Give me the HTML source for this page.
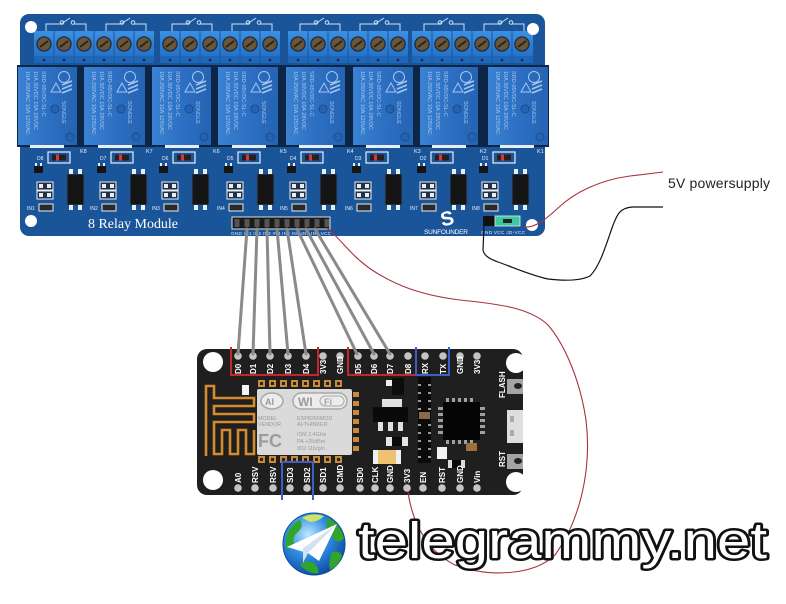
<!DOCTYPE html>
<html><head><meta charset="utf-8">
<style>
html,body{margin:0;padding:0;background:#fff;}
svg{display:block;}
</style></head><body>
<svg width="786" height="604" viewBox="0 0 786 604" xmlns="http://www.w3.org/2000/svg" font-family="Liberation Sans, sans-serif">
<defs>
 <linearGradient id="relayG" x1="0" y1="0" x2="1" y2="0">
  <stop offset="0" stop-color="#3b82d2"/><stop offset="0.5" stop-color="#2d70c3"/><stop offset="1" stop-color="#2563b3"/>
 </linearGradient>
 <linearGradient id="termG" x1="0" y1="0" x2="0" y2="1">
  <stop offset="0" stop-color="#3c90e2"/><stop offset="1" stop-color="#2672c6"/>
 </linearGradient>
 <radialGradient id="globe" cx="0.4" cy="0.35" r="0.75">
  <stop offset="0" stop-color="#bfe8ff"/><stop offset="0.45" stop-color="#2f8ee0"/><stop offset="1" stop-color="#0a3c9a"/>
 </radialGradient>
</defs>

<!-- ============ RELAY BOARD ============ -->
<rect x="20" y="14" width="525" height="222" rx="9" fill="#1b5599"/>

<!-- schematic symbols -->
<g stroke="#cfe0f2" fill="none" stroke-width="1">
<path d="M46 31V24H61M61 24L70 18M74 24H86V31"/><circle cx="62" cy="22.5" r="1.8"/><circle cx="73" cy="22.5" r="1.8"/>
<path d="M106 31V24H121M121 24L130 18M134 24H146V31"/><circle cx="122" cy="22.5" r="1.8"/><circle cx="133" cy="22.5" r="1.8"/>
<path d="M172 31V24H187M187 24L196 18M200 24H212V31"/><circle cx="188" cy="22.5" r="1.8"/><circle cx="199" cy="22.5" r="1.8"/>
<path d="M232 31V24H247M247 24L256 18M260 24H272V31"/><circle cx="248" cy="22.5" r="1.8"/><circle cx="259" cy="22.5" r="1.8"/>
<path d="M300 31V24H315M315 24L324 18M328 24H340V31"/><circle cx="316" cy="22.5" r="1.8"/><circle cx="327" cy="22.5" r="1.8"/>
<path d="M360 31V24H375M375 24L384 18M388 24H400V31"/><circle cx="376" cy="22.5" r="1.8"/><circle cx="387" cy="22.5" r="1.8"/>
<path d="M424 31V24H439M439 24L448 18M452 24H464V31"/><circle cx="440" cy="22.5" r="1.8"/><circle cx="451" cy="22.5" r="1.8"/>
<path d="M484 31V24H499M499 24L508 18M512 24H524V31"/><circle cx="500" cy="22.5" r="1.8"/><circle cx="511" cy="22.5" r="1.8"/>
</g>

<!-- terminal blocks -->
<g transform="translate(34,31)">
 <rect width="120" height="32" fill="#1f66b8"/><rect width="120" height="25" fill="url(#termG)"/>
 <path d="M20 0V32M40 0V32M60 0V32M80 0V32M100 0V32" stroke="#1a58a0"/>
 <g fill="#6a5638" stroke="#24344a" stroke-width="1.6">
  <circle cx="10" cy="13" r="7"/><circle cx="30" cy="13" r="7"/><circle cx="50" cy="13" r="7"/><circle cx="70" cy="13" r="7"/><circle cx="90" cy="13" r="7"/><circle cx="110" cy="13" r="7"/>
 </g>
 <path d="M6 16L14 10M26 16L34 10M46 16L54 10M66 16L74 10M86 16L94 10M106 16L114 10" stroke="#2a2418" stroke-width="1.8"/>
 <g fill="#0d2a4f"><circle cx="10" cy="29" r="1.3"/><circle cx="30" cy="29" r="1.3"/><circle cx="50" cy="29" r="1.3"/><circle cx="70" cy="29" r="1.3"/><circle cx="90" cy="29" r="1.3"/><circle cx="110" cy="29" r="1.3"/></g>
</g>
<g transform="translate(160,31)">
 <rect width="120" height="32" fill="#1f66b8"/><rect width="120" height="25" fill="url(#termG)"/>
 <path d="M20 0V32M40 0V32M60 0V32M80 0V32M100 0V32" stroke="#1a58a0"/>
 <g fill="#6a5638" stroke="#24344a" stroke-width="1.6">
  <circle cx="10" cy="13" r="7"/><circle cx="30" cy="13" r="7"/><circle cx="50" cy="13" r="7"/><circle cx="70" cy="13" r="7"/><circle cx="90" cy="13" r="7"/><circle cx="110" cy="13" r="7"/>
 </g>
 <path d="M6 16L14 10M26 16L34 10M46 16L54 10M66 16L74 10M86 16L94 10M106 16L114 10" stroke="#2a2418" stroke-width="1.8"/>
 <g fill="#0d2a4f"><circle cx="10" cy="29" r="1.3"/><circle cx="30" cy="29" r="1.3"/><circle cx="50" cy="29" r="1.3"/><circle cx="70" cy="29" r="1.3"/><circle cx="90" cy="29" r="1.3"/><circle cx="110" cy="29" r="1.3"/></g>
</g>
<g transform="translate(288,31)">
 <rect width="120" height="32" fill="#1f66b8"/><rect width="120" height="25" fill="url(#termG)"/>
 <path d="M20 0V32M40 0V32M60 0V32M80 0V32M100 0V32" stroke="#1a58a0"/>
 <g fill="#6a5638" stroke="#24344a" stroke-width="1.6">
  <circle cx="10" cy="13" r="7"/><circle cx="30" cy="13" r="7"/><circle cx="50" cy="13" r="7"/><circle cx="70" cy="13" r="7"/><circle cx="90" cy="13" r="7"/><circle cx="110" cy="13" r="7"/>
 </g>
 <path d="M6 16L14 10M26 16L34 10M46 16L54 10M66 16L74 10M86 16L94 10M106 16L114 10" stroke="#2a2418" stroke-width="1.8"/>
 <g fill="#0d2a4f"><circle cx="10" cy="29" r="1.3"/><circle cx="30" cy="29" r="1.3"/><circle cx="50" cy="29" r="1.3"/><circle cx="70" cy="29" r="1.3"/><circle cx="90" cy="29" r="1.3"/><circle cx="110" cy="29" r="1.3"/></g>
</g>
<g transform="translate(412,31)">
 <rect width="121" height="32" fill="#1f66b8"/><rect width="121" height="25" fill="url(#termG)"/>
 <path d="M20 0V32M40 0V32M60 0V32M80 0V32M100 0V32" stroke="#1a58a0"/>
 <g fill="#6a5638" stroke="#24344a" stroke-width="1.6">
  <circle cx="10" cy="13" r="7"/><circle cx="30" cy="13" r="7"/><circle cx="50" cy="13" r="7"/><circle cx="70" cy="13" r="7"/><circle cx="90" cy="13" r="7"/><circle cx="110" cy="13" r="7"/>
 </g>
 <path d="M6 16L14 10M26 16L34 10M46 16L54 10M66 16L74 10M86 16L94 10M106 16L114 10" stroke="#2a2418" stroke-width="1.8"/>
 <g fill="#0d2a4f"><circle cx="10" cy="29" r="1.3"/><circle cx="30" cy="29" r="1.3"/><circle cx="50" cy="29" r="1.3"/><circle cx="70" cy="29" r="1.3"/><circle cx="90" cy="29" r="1.3"/><circle cx="110" cy="29" r="1.3"/></g>
</g>

<!-- relays -->
<rect x="17" y="65" width="532" height="82" fill="#0d2646"/>
<g font-size="5.5" fill="#a6c6ee">
<g transform="translate(18,67)">
 <rect width="59" height="78" fill="url(#relayG)"/>
 <text transform="translate(8,4) rotate(90)">10A 250VAC 10A 125VAC</text>
 <text transform="translate(16,4) rotate(90)">10A 30VDC 10A 28VDC</text>
 <text transform="translate(24,4) rotate(90)">SRD-05VDC-SL-C</text>
 <circle cx="46" cy="10" r="5.5" fill="none" stroke="#a6c6ee"/>
 <path d="M33 25l5-9 5 9z" fill="none" stroke="#a6c6ee"/>
 <path d="M44 18l10-4M44 22l10-4M44 26l10-4" stroke="#a6c6ee" stroke-width="1.5"/>
 <circle cx="37" cy="42" r="4" fill="#2563b0" stroke="#1a4d8c"/>
 <text transform="translate(44,34) rotate(90)">SONGLE</text>
 <circle cx="52" cy="70" r="4" fill="#2563b0" stroke="#1a4d8c"/>
</g>
<g transform="translate(84,67)">
 <rect width="61" height="78" fill="url(#relayG)"/>
 <text transform="translate(8,4) rotate(90)">10A 250VAC 10A 125VAC</text>
 <text transform="translate(16,4) rotate(90)">10A 30VDC 10A 28VDC</text>
 <text transform="translate(24,4) rotate(90)">SRD-05VDC-SL-C</text>
 <circle cx="46" cy="10" r="5.5" fill="none" stroke="#a6c6ee"/>
 <path d="M33 25l5-9 5 9z" fill="none" stroke="#a6c6ee"/>
 <path d="M44 18l10-4M44 22l10-4M44 26l10-4" stroke="#a6c6ee" stroke-width="1.5"/>
 <circle cx="37" cy="42" r="4" fill="#2563b0" stroke="#1a4d8c"/>
 <text transform="translate(44,34) rotate(90)">SONGLE</text>
 <circle cx="52" cy="70" r="4" fill="#2563b0" stroke="#1a4d8c"/>
</g>
<g transform="translate(152,67)">
 <rect width="59" height="78" fill="url(#relayG)"/>
 <text transform="translate(8,4) rotate(90)">10A 250VAC 10A 125VAC</text>
 <text transform="translate(16,4) rotate(90)">10A 30VDC 10A 28VDC</text>
 <text transform="translate(24,4) rotate(90)">SRD-05VDC-SL-C</text>
 <circle cx="46" cy="10" r="5.5" fill="none" stroke="#a6c6ee"/>
 <path d="M33 25l5-9 5 9z" fill="none" stroke="#a6c6ee"/>
 <path d="M44 18l10-4M44 22l10-4M44 26l10-4" stroke="#a6c6ee" stroke-width="1.5"/>
 <circle cx="37" cy="42" r="4" fill="#2563b0" stroke="#1a4d8c"/>
 <text transform="translate(44,34) rotate(90)">SONGLE</text>
 <circle cx="52" cy="70" r="4" fill="#2563b0" stroke="#1a4d8c"/>
</g>
<g transform="translate(218,67)">
 <rect width="60" height="78" fill="url(#relayG)"/>
 <text transform="translate(8,4) rotate(90)">10A 250VAC 10A 125VAC</text>
 <text transform="translate(16,4) rotate(90)">10A 30VDC 10A 28VDC</text>
 <text transform="translate(24,4) rotate(90)">SRD-05VDC-SL-C</text>
 <circle cx="46" cy="10" r="5.5" fill="none" stroke="#a6c6ee"/>
 <path d="M33 25l5-9 5 9z" fill="none" stroke="#a6c6ee"/>
 <path d="M44 18l10-4M44 22l10-4M44 26l10-4" stroke="#a6c6ee" stroke-width="1.5"/>
 <circle cx="37" cy="42" r="4" fill="#2563b0" stroke="#1a4d8c"/>
 <text transform="translate(44,34) rotate(90)">SONGLE</text>
 <circle cx="52" cy="70" r="4" fill="#2563b0" stroke="#1a4d8c"/>
</g>
<g transform="translate(286,67)">
 <rect width="59" height="78" fill="url(#relayG)"/>
 <text transform="translate(8,4) rotate(90)">10A 250VAC 10A 125VAC</text>
 <text transform="translate(16,4) rotate(90)">10A 30VDC 10A 28VDC</text>
 <text transform="translate(24,4) rotate(90)">SRD-05VDC-SL-C</text>
 <circle cx="46" cy="10" r="5.5" fill="none" stroke="#a6c6ee"/>
 <path d="M33 25l5-9 5 9z" fill="none" stroke="#a6c6ee"/>
 <path d="M44 18l10-4M44 22l10-4M44 26l10-4" stroke="#a6c6ee" stroke-width="1.5"/>
 <circle cx="37" cy="42" r="4" fill="#2563b0" stroke="#1a4d8c"/>
 <text transform="translate(44,34) rotate(90)">SONGLE</text>
 <circle cx="52" cy="70" r="4" fill="#2563b0" stroke="#1a4d8c"/>
</g>
<g transform="translate(353,67)">
 <rect width="60" height="78" fill="url(#relayG)"/>
 <text transform="translate(8,4) rotate(90)">10A 250VAC 10A 125VAC</text>
 <text transform="translate(16,4) rotate(90)">10A 30VDC 10A 28VDC</text>
 <text transform="translate(24,4) rotate(90)">SRD-05VDC-SL-C</text>
 <circle cx="46" cy="10" r="5.5" fill="none" stroke="#a6c6ee"/>
 <path d="M33 25l5-9 5 9z" fill="none" stroke="#a6c6ee"/>
 <path d="M44 18l10-4M44 22l10-4M44 26l10-4" stroke="#a6c6ee" stroke-width="1.5"/>
 <circle cx="37" cy="42" r="4" fill="#2563b0" stroke="#1a4d8c"/>
 <text transform="translate(44,34) rotate(90)">SONGLE</text>
 <circle cx="52" cy="70" r="4" fill="#2563b0" stroke="#1a4d8c"/>
</g>
<g transform="translate(420,67)">
 <rect width="58" height="78" fill="url(#relayG)"/>
 <text transform="translate(8,4) rotate(90)">10A 250VAC 10A 125VAC</text>
 <text transform="translate(16,4) rotate(90)">10A 30VDC 10A 28VDC</text>
 <text transform="translate(24,4) rotate(90)">SRD-05VDC-SL-C</text>
 <circle cx="46" cy="10" r="5.5" fill="none" stroke="#a6c6ee"/>
 <path d="M33 25l5-9 5 9z" fill="none" stroke="#a6c6ee"/>
 <path d="M44 18l10-4M44 22l10-4M44 26l10-4" stroke="#a6c6ee" stroke-width="1.5"/>
 <circle cx="37" cy="42" r="4" fill="#2563b0" stroke="#1a4d8c"/>
 <text transform="translate(44,34) rotate(90)">SONGLE</text>
 <circle cx="52" cy="70" r="4" fill="#2563b0" stroke="#1a4d8c"/>
</g>
<g transform="translate(488,67)">
 <rect width="60" height="78" fill="url(#relayG)"/>
 <text transform="translate(8,4) rotate(90)">10A 250VAC 10A 125VAC</text>
 <text transform="translate(16,4) rotate(90)">10A 30VDC 10A 28VDC</text>
 <text transform="translate(24,4) rotate(90)">SRD-05VDC-SL-C</text>
 <circle cx="46" cy="10" r="5.5" fill="none" stroke="#a6c6ee"/>
 <path d="M33 25l5-9 5 9z" fill="none" stroke="#a6c6ee"/>
 <path d="M44 18l10-4M44 22l10-4M44 26l10-4" stroke="#a6c6ee" stroke-width="1.5"/>
 <circle cx="37" cy="42" r="4" fill="#2563b0" stroke="#1a4d8c"/>
 <text transform="translate(44,34) rotate(90)">SONGLE</text>
 <circle cx="52" cy="70" r="4" fill="#2563b0" stroke="#1a4d8c"/>
</g>
</g>
<!-- white flanges under relays -->
<g fill="#e8edf3">
<rect x="30" y="145" width="34" height="3"/><rect x="98" y="145" width="34" height="3"/><rect x="165" y="145" width="34" height="3"/><rect x="232" y="145" width="34" height="3"/>
<rect x="299" y="145" width="34" height="3"/><rect x="366" y="145" width="34" height="3"/><rect x="432" y="145" width="34" height="3"/><rect x="500" y="145" width="34" height="3"/>
</g>
<g font-size="5.5" fill="#e6eef8">
<text x="80" y="153">K8</text><text x="146" y="153">K7</text><text x="213" y="153">K6</text><text x="280" y="153">K5</text>
<text x="347" y="153">K4</text><text x="414" y="153">K3</text><text x="480" y="153">K2</text><text x="537" y="153">K1</text>
</g>

<!-- channel components -->
<g id="chs" font-size="5" fill="#e6eef8">
<g transform="translate(67,0)">
 <rect x="-19" y="152" width="22" height="11" fill="#1b5599" stroke="#e6eef8" stroke-width="1.2"/><rect x="-15" y="154.5" width="14" height="6" fill="#2a1e1e"/><rect x="-11" y="154.5" width="3" height="6" fill="#d03a3a"/>
 <text x="-30" y="160">D8</text>
 <rect x="-33" y="166" width="9" height="7" fill="#151515"/><rect x="-32" y="163" width="2" height="3"/><rect x="-27" y="163" width="2" height="3"/>
 <rect x="-30" y="182" width="16" height="8" fill="#233044" stroke="#e6eef8"/><rect x="-30" y="191" width="16" height="8" fill="#233044" stroke="#e6eef8"/>
 <rect x="-28" y="184" width="4" height="4"/><rect x="-20" y="184" width="4" height="4"/><rect x="-28" y="193" width="4" height="4"/><rect x="-20" y="193" width="4" height="4"/>
 <rect x="-28" y="204" width="14" height="7" fill="#2a2a2a" stroke="#e6eef8"/><text x="-40" y="210">IN1</text>
 <rect x="0" y="174" width="17" height="31" fill="#141414" stroke="#2b4c78"/>
 <rect x="2" y="169" width="4" height="5"/><rect x="11" y="169" width="4" height="5"/><rect x="2" y="205" width="4" height="5"/><rect x="11" y="205" width="4" height="5"/>
</g>
<g transform="translate(130,0)">
 <rect x="-19" y="152" width="22" height="11" fill="#1b5599" stroke="#e6eef8" stroke-width="1.2"/><rect x="-15" y="154.5" width="14" height="6" fill="#2a1e1e"/><rect x="-11" y="154.5" width="3" height="6" fill="#d03a3a"/>
 <text x="-30" y="160">D7</text>
 <rect x="-33" y="166" width="9" height="7" fill="#151515"/><rect x="-32" y="163" width="2" height="3"/><rect x="-27" y="163" width="2" height="3"/>
 <rect x="-30" y="182" width="16" height="8" fill="#233044" stroke="#e6eef8"/><rect x="-30" y="191" width="16" height="8" fill="#233044" stroke="#e6eef8"/>
 <rect x="-28" y="184" width="4" height="4"/><rect x="-20" y="184" width="4" height="4"/><rect x="-28" y="193" width="4" height="4"/><rect x="-20" y="193" width="4" height="4"/>
 <rect x="-28" y="204" width="14" height="7" fill="#2a2a2a" stroke="#e6eef8"/><text x="-40" y="210">IN2</text>
 <rect x="0" y="174" width="17" height="31" fill="#141414" stroke="#2b4c78"/>
 <rect x="2" y="169" width="4" height="5"/><rect x="11" y="169" width="4" height="5"/><rect x="2" y="205" width="4" height="5"/><rect x="11" y="205" width="4" height="5"/>
</g>
<g transform="translate(192,0)">
 <rect x="-19" y="152" width="22" height="11" fill="#1b5599" stroke="#e6eef8" stroke-width="1.2"/><rect x="-15" y="154.5" width="14" height="6" fill="#2a1e1e"/><rect x="-11" y="154.5" width="3" height="6" fill="#d03a3a"/>
 <text x="-30" y="160">D6</text>
 <rect x="-33" y="166" width="9" height="7" fill="#151515"/><rect x="-32" y="163" width="2" height="3"/><rect x="-27" y="163" width="2" height="3"/>
 <rect x="-30" y="182" width="16" height="8" fill="#233044" stroke="#e6eef8"/><rect x="-30" y="191" width="16" height="8" fill="#233044" stroke="#e6eef8"/>
 <rect x="-28" y="184" width="4" height="4"/><rect x="-20" y="184" width="4" height="4"/><rect x="-28" y="193" width="4" height="4"/><rect x="-20" y="193" width="4" height="4"/>
 <rect x="-28" y="204" width="14" height="7" fill="#2a2a2a" stroke="#e6eef8"/><text x="-40" y="210">IN3</text>
 <rect x="0" y="174" width="17" height="31" fill="#141414" stroke="#2b4c78"/>
 <rect x="2" y="169" width="4" height="5"/><rect x="11" y="169" width="4" height="5"/><rect x="2" y="205" width="4" height="5"/><rect x="11" y="205" width="4" height="5"/>
</g>
<g transform="translate(257,0)">
 <rect x="-19" y="152" width="22" height="11" fill="#1b5599" stroke="#e6eef8" stroke-width="1.2"/><rect x="-15" y="154.5" width="14" height="6" fill="#2a1e1e"/><rect x="-11" y="154.5" width="3" height="6" fill="#d03a3a"/>
 <text x="-30" y="160">D5</text>
 <rect x="-33" y="166" width="9" height="7" fill="#151515"/><rect x="-32" y="163" width="2" height="3"/><rect x="-27" y="163" width="2" height="3"/>
 <rect x="-30" y="182" width="16" height="8" fill="#233044" stroke="#e6eef8"/><rect x="-30" y="191" width="16" height="8" fill="#233044" stroke="#e6eef8"/>
 <rect x="-28" y="184" width="4" height="4"/><rect x="-20" y="184" width="4" height="4"/><rect x="-28" y="193" width="4" height="4"/><rect x="-20" y="193" width="4" height="4"/>
 <rect x="-28" y="204" width="14" height="7" fill="#2a2a2a" stroke="#e6eef8"/><text x="-40" y="210">IN4</text>
 <rect x="0" y="174" width="17" height="31" fill="#141414" stroke="#2b4c78"/>
 <rect x="2" y="169" width="4" height="5"/><rect x="11" y="169" width="4" height="5"/><rect x="2" y="205" width="4" height="5"/><rect x="11" y="205" width="4" height="5"/>
</g>
<g transform="translate(320,0)">
 <rect x="-19" y="152" width="22" height="11" fill="#1b5599" stroke="#e6eef8" stroke-width="1.2"/><rect x="-15" y="154.5" width="14" height="6" fill="#2a1e1e"/><rect x="-11" y="154.5" width="3" height="6" fill="#d03a3a"/>
 <text x="-30" y="160">D4</text>
 <rect x="-33" y="166" width="9" height="7" fill="#151515"/><rect x="-32" y="163" width="2" height="3"/><rect x="-27" y="163" width="2" height="3"/>
 <rect x="-30" y="182" width="16" height="8" fill="#233044" stroke="#e6eef8"/><rect x="-30" y="191" width="16" height="8" fill="#233044" stroke="#e6eef8"/>
 <rect x="-28" y="184" width="4" height="4"/><rect x="-20" y="184" width="4" height="4"/><rect x="-28" y="193" width="4" height="4"/><rect x="-20" y="193" width="4" height="4"/>
 <rect x="-28" y="204" width="14" height="7" fill="#2a2a2a" stroke="#e6eef8"/><text x="-40" y="210">IN5</text>
 <rect x="0" y="174" width="17" height="31" fill="#141414" stroke="#2b4c78"/>
 <rect x="2" y="169" width="4" height="5"/><rect x="11" y="169" width="4" height="5"/><rect x="2" y="205" width="4" height="5"/><rect x="11" y="205" width="4" height="5"/>
</g>
<g transform="translate(385,0)">
 <rect x="-19" y="152" width="22" height="11" fill="#1b5599" stroke="#e6eef8" stroke-width="1.2"/><rect x="-15" y="154.5" width="14" height="6" fill="#2a1e1e"/><rect x="-11" y="154.5" width="3" height="6" fill="#d03a3a"/>
 <text x="-30" y="160">D3</text>
 <rect x="-33" y="166" width="9" height="7" fill="#151515"/><rect x="-32" y="163" width="2" height="3"/><rect x="-27" y="163" width="2" height="3"/>
 <rect x="-30" y="182" width="16" height="8" fill="#233044" stroke="#e6eef8"/><rect x="-30" y="191" width="16" height="8" fill="#233044" stroke="#e6eef8"/>
 <rect x="-28" y="184" width="4" height="4"/><rect x="-20" y="184" width="4" height="4"/><rect x="-28" y="193" width="4" height="4"/><rect x="-20" y="193" width="4" height="4"/>
 <rect x="-28" y="204" width="14" height="7" fill="#2a2a2a" stroke="#e6eef8"/><text x="-40" y="210">IN6</text>
 <rect x="0" y="174" width="17" height="31" fill="#141414" stroke="#2b4c78"/>
 <rect x="2" y="169" width="4" height="5"/><rect x="11" y="169" width="4" height="5"/><rect x="2" y="205" width="4" height="5"/><rect x="11" y="205" width="4" height="5"/>
</g>
<g transform="translate(450,0)">
 <rect x="-19" y="152" width="22" height="11" fill="#1b5599" stroke="#e6eef8" stroke-width="1.2"/><rect x="-15" y="154.5" width="14" height="6" fill="#2a1e1e"/><rect x="-11" y="154.5" width="3" height="6" fill="#d03a3a"/>
 <text x="-30" y="160">D2</text>
 <rect x="-33" y="166" width="9" height="7" fill="#151515"/><rect x="-32" y="163" width="2" height="3"/><rect x="-27" y="163" width="2" height="3"/>
 <rect x="-30" y="182" width="16" height="8" fill="#233044" stroke="#e6eef8"/><rect x="-30" y="191" width="16" height="8" fill="#233044" stroke="#e6eef8"/>
 <rect x="-28" y="184" width="4" height="4"/><rect x="-20" y="184" width="4" height="4"/><rect x="-28" y="193" width="4" height="4"/><rect x="-20" y="193" width="4" height="4"/>
 <rect x="-28" y="204" width="14" height="7" fill="#2a2a2a" stroke="#e6eef8"/><text x="-40" y="210">IN7</text>
 <rect x="0" y="174" width="17" height="31" fill="#141414" stroke="#2b4c78"/>
 <rect x="2" y="169" width="4" height="5"/><rect x="11" y="169" width="4" height="5"/><rect x="2" y="205" width="4" height="5"/><rect x="11" y="205" width="4" height="5"/>
</g>
<g transform="translate(512,0)">
 <rect x="-19" y="152" width="22" height="11" fill="#1b5599" stroke="#e6eef8" stroke-width="1.2"/><rect x="-15" y="154.5" width="14" height="6" fill="#2a1e1e"/><rect x="-11" y="154.5" width="3" height="6" fill="#d03a3a"/>
 <text x="-30" y="160">D1</text>
 <rect x="-33" y="166" width="9" height="7" fill="#151515"/><rect x="-32" y="163" width="2" height="3"/><rect x="-27" y="163" width="2" height="3"/>
 <rect x="-30" y="182" width="16" height="8" fill="#233044" stroke="#e6eef8"/><rect x="-30" y="191" width="16" height="8" fill="#233044" stroke="#e6eef8"/>
 <rect x="-28" y="184" width="4" height="4"/><rect x="-20" y="184" width="4" height="4"/><rect x="-28" y="193" width="4" height="4"/><rect x="-20" y="193" width="4" height="4"/>
 <rect x="-28" y="204" width="14" height="7" fill="#2a2a2a" stroke="#e6eef8"/><text x="-40" y="210">IN8</text>
 <rect x="0" y="174" width="17" height="31" fill="#141414" stroke="#2b4c78"/>
 <rect x="2" y="169" width="4" height="5"/><rect x="11" y="169" width="4" height="5"/><rect x="2" y="205" width="4" height="5"/><rect x="11" y="205" width="4" height="5"/>
</g>
</g>

<!-- mounting holes -->
<g fill="#fff"><circle cx="31" cy="27" r="6"/><circle cx="31" cy="221" r="6"/><circle cx="533" cy="29" r="6"/><circle cx="532" cy="225" r="6"/></g>

<!-- header -->
<rect x="232" y="217" width="98" height="12" fill="#1a1a1a" stroke="#dddddd" stroke-width="1"/>
<g fill="#555">
<rect x="234.5" y="219" width="5" height="8"/><rect x="244.5" y="219" width="5" height="8"/><rect x="254.5" y="219" width="5" height="8"/><rect x="264.5" y="219" width="5" height="8"/><rect x="274.5" y="219" width="5" height="8"/>
<rect x="284.5" y="219" width="5" height="8"/><rect x="294.5" y="219" width="5" height="8"/><rect x="304.5" y="219" width="5" height="8"/><rect x="314.5" y="219" width="5" height="8"/><rect x="324.5" y="219" width="5" height="8"/>
</g>
<text x="231" y="235" font-size="4.6" fill="#e6eef8" textLength="100">GND IN1 IN2 IN3 IN4 IN5 IN6 IN7 IN8 VCC</text>

<!-- label + logo -->
<text x="88" y="228" font-family="Liberation Serif, serif" font-size="14" fill="#fff" textLength="90">8 Relay Module</text>
<text x="440" y="225" font-size="20" font-weight="bold" fill="#fff" transform="rotate(-12 448 216)">S</text>
<text x="424" y="234" font-size="6.5" fill="#fff" textLength="44">SUNFOUNDER</text>

<!-- jumper -->
<rect x="483" y="216" width="12" height="10" fill="#111"/>
<rect x="495" y="216" width="25" height="10" fill="#3cc8a0" stroke="#eee" stroke-width="0.8"/>
<rect x="503" y="219" width="9" height="4" fill="#222"/>
<text x="481" y="234" font-size="4.6" fill="#e6eef8" textLength="44">GND VCC JD-VCC</text>

<!-- ============ NodeMCU ============ -->
<rect x="197" y="349" width="326" height="146" rx="10" fill="#1f1f1f"/>
<g fill="#fff"><circle cx="213" cy="362" r="10"/><circle cx="213" cy="480" r="10"/><circle cx="516" cy="363" r="10"/><circle cx="516" cy="482" r="10"/></g>

<!-- antenna -->
<path d="M206 456V386H214V398H254V406H214V414H254V422H214V454H222V430H230V454H238V430H246V454H254V430" fill="none" stroke="#d58a32" stroke-width="2.6"/>
<rect x="242" y="385" width="7" height="10" fill="#f2f2f2"/>

<!-- ESP12 -->
<g fill="#c98a3a">
<rect x="258" y="380" width="7" height="7"/><rect x="269" y="380" width="7" height="7"/><rect x="280" y="380" width="7" height="7"/><rect x="291" y="380" width="7" height="7"/><rect x="302" y="380" width="7" height="7"/><rect x="313" y="380" width="7" height="7"/><rect x="324" y="380" width="7" height="7"/><rect x="335" y="380" width="7" height="7"/>
<rect x="258" y="456" width="7" height="7"/><rect x="269" y="456" width="7" height="7"/><rect x="280" y="456" width="7" height="7"/><rect x="291" y="456" width="7" height="7"/><rect x="302" y="456" width="7" height="7"/><rect x="313" y="456" width="7" height="7"/><rect x="324" y="456" width="7" height="7"/><rect x="335" y="456" width="7" height="7"/>
<rect x="353" y="392" width="6" height="5"/><rect x="353" y="401" width="6" height="5"/><rect x="353" y="410" width="6" height="5"/><rect x="353" y="419" width="6" height="5"/><rect x="353" y="428" width="6" height="5"/><rect x="353" y="437" width="6" height="5"/><rect x="353" y="446" width="6" height="5"/>
</g>
<g fill="#2a2018">
<rect x="260" y="382" width="3" height="3"/><rect x="271" y="382" width="3" height="3"/><rect x="282" y="382" width="3" height="3"/><rect x="293" y="382" width="3" height="3"/><rect x="304" y="382" width="3" height="3"/><rect x="315" y="382" width="3" height="3"/><rect x="326" y="382" width="3" height="3"/><rect x="337" y="382" width="3" height="3"/>
<rect x="260" y="458" width="3" height="3"/><rect x="271" y="458" width="3" height="3"/><rect x="282" y="458" width="3" height="3"/><rect x="293" y="458" width="3" height="3"/><rect x="304" y="458" width="3" height="3"/><rect x="315" y="458" width="3" height="3"/><rect x="326" y="458" width="3" height="3"/><rect x="337" y="458" width="3" height="3"/>
</g>
<rect x="257" y="389" width="95" height="66" rx="2" fill="#dadada"/>
<ellipse cx="272" cy="401" rx="11" ry="8" fill="#ececec" stroke="#a8a8a8" stroke-width="1.5"/>
<text x="265" y="405" font-size="9" font-weight="bold" fill="#9a9a9a">AI</text>
<rect x="293" y="393" width="54" height="16" rx="8" fill="#ececec" stroke="#a8a8a8" stroke-width="1.5"/>
<text x="298" y="406" font-size="12" font-weight="bold" fill="#9a9a9a">WI</text>
<rect x="320" y="396" width="24" height="10" rx="5" fill="none" stroke="#a8a8a8"/>
<text x="324" y="405" font-size="9" font-weight="bold" fill="#a8a8a8">Fi</text>
<g font-size="5.4" fill="#999">
<text x="258" y="420">MODEL</text><text x="258" y="426">VENDOR</text>
<text x="297" y="420">ESP8266MOD</text><text x="297" y="426">AI-THINKER</text>
<text x="297" y="436">ISM 2.4GHz</text><text x="297" y="443">PA +25dBm</text><text x="297" y="450">802.11b/g/n</text>
</g>
<text x="258" y="447" font-size="18" font-weight="bold" fill="#9c9c9c">FC</text>

<!-- other components -->
<rect x="386" y="380" width="6" height="6" fill="#eee"/><rect x="392" y="378" width="12" height="17" fill="#0c0c0c"/>
<rect x="382" y="399" width="20" height="9" fill="#e0e0e0"/>
<rect x="373" y="407" width="35" height="15" fill="#0a0a0a"/>
<rect x="378" y="422" width="5" height="9" fill="#e0e0e0"/><rect x="388" y="422" width="5" height="9" fill="#e0e0e0"/><rect x="398" y="422" width="5" height="9" fill="#e0e0e0"/>
<rect x="386" y="437" width="22" height="9" fill="#e4e4e4"/><rect x="392" y="437" width="10" height="9" fill="#0a0a0a"/>
<rect x="373" y="450" width="28" height="14" fill="#f0f0f0"/><rect x="378" y="450" width="18" height="14" fill="#efc272"/>
<rect x="418" y="377" width="13" height="86" fill="#0a0a0a"/>
<g fill="#9a9a9a">
<rect x="418" y="384" width="3" height="2"/><rect x="428" y="384" width="3" height="2"/><rect x="418" y="392" width="3" height="2"/><rect x="428" y="392" width="3" height="2"/>
<rect x="418" y="400" width="3" height="2"/><rect x="428" y="400" width="3" height="2"/><rect x="418" y="408" width="3" height="2"/><rect x="428" y="408" width="3" height="2"/>
<rect x="418" y="424" width="3" height="2"/><rect x="428" y="424" width="3" height="2"/><rect x="418" y="432" width="3" height="2"/><rect x="428" y="432" width="3" height="2"/>
<rect x="418" y="440" width="3" height="2"/><rect x="428" y="440" width="3" height="2"/><rect x="418" y="448" width="3" height="2"/><rect x="428" y="448" width="3" height="2"/>
<rect x="418" y="456" width="3" height="2"/><rect x="428" y="456" width="3" height="2"/>
</g>
<rect x="419" y="412" width="11" height="7" fill="#8a6a4a"/>
<!-- CH340 -->
<g fill="#a0a0a0">
<rect x="446" y="398" width="3" height="5"/><rect x="452" y="398" width="3" height="5"/><rect x="458" y="398" width="3" height="5"/><rect x="464" y="398" width="3" height="5"/><rect x="470" y="398" width="3" height="5"/>
<rect x="446" y="439" width="3" height="5"/><rect x="452" y="439" width="3" height="5"/><rect x="458" y="439" width="3" height="5"/><rect x="464" y="439" width="3" height="5"/><rect x="470" y="439" width="3" height="5"/>
<rect x="438" y="407" width="6" height="3"/><rect x="438" y="413" width="6" height="3"/><rect x="438" y="419" width="6" height="3"/><rect x="438" y="425" width="6" height="3"/><rect x="438" y="431" width="6" height="3"/>
<rect x="479" y="407" width="6" height="3"/><rect x="479" y="413" width="6" height="3"/><rect x="479" y="419" width="6" height="3"/><rect x="479" y="425" width="6" height="3"/><rect x="479" y="431" width="6" height="3"/>
</g>
<rect x="443" y="402" width="37" height="38" fill="#050505"/>
<rect x="437" y="447" width="10" height="12" fill="#f2f2f2"/>
<rect x="448" y="460" width="17" height="8" fill="#dcdcdc"/><rect x="452" y="460" width="9" height="8" fill="#0a0a0a"/>
<rect x="466" y="443" width="11" height="8" fill="#a0703c"/>
<!-- buttons and usb -->
<rect x="507" y="379" width="16" height="15" fill="#a4a4a4"/><ellipse cx="518" cy="386" rx="4" ry="3" fill="#222"/>
<rect x="507" y="410" width="16" height="33" fill="#dedede"/><rect x="510" y="416" width="4" height="6" fill="#aaa"/><rect x="510" y="430" width="4" height="6" fill="#aaa"/>
<rect x="507" y="454" width="16" height="15" fill="#a4a4a4"/><ellipse cx="518" cy="461" rx="4" ry="3" fill="#222"/>
<g font-size="8" font-weight="bold" fill="#fff">
<text transform="translate(505,398) rotate(-90)">FLASH</text>
<text transform="translate(505,467) rotate(-90)">RST</text>
</g>

<!-- pins -->
<g fill="#c4c4c4">
<circle cx="238" cy="356" r="3.8"/><circle cx="253" cy="356" r="3.8"/><circle cx="270" cy="356" r="3.8"/><circle cx="288" cy="356" r="3.8"/><circle cx="306" cy="356" r="3.8"/>
<circle cx="323" cy="356" r="3.8"/><circle cx="340" cy="356" r="3.8"/><circle cx="358" cy="356" r="3.8"/><circle cx="374" cy="356" r="3.8"/><circle cx="390" cy="356" r="3.8"/>
<circle cx="408" cy="356" r="3.8"/><circle cx="425" cy="356" r="3.8"/><circle cx="443" cy="356" r="3.8"/><circle cx="460" cy="356" r="3.8"/><circle cx="477" cy="356" r="3.8"/>
<circle cx="238" cy="488" r="3.8"/><circle cx="255" cy="488" r="3.8"/><circle cx="273" cy="488" r="3.8"/><circle cx="290" cy="488" r="3.8"/><circle cx="307" cy="488" r="3.8"/>
<circle cx="323" cy="488" r="3.8"/><circle cx="340" cy="488" r="3.8"/><circle cx="360" cy="488" r="3.8"/><circle cx="375" cy="488" r="3.8"/><circle cx="390" cy="488" r="3.8"/>
<circle cx="407" cy="488" r="3.8"/><circle cx="423" cy="488" r="3.8"/><circle cx="442" cy="488" r="3.8"/><circle cx="460" cy="488" r="3.8"/><circle cx="477" cy="488" r="3.8"/>
</g>
<g font-size="8" font-weight="bold" fill="#fff">
<text transform="translate(241,374) rotate(-90)">D0</text>
<text transform="translate(256,374) rotate(-90)">D1</text>
<text transform="translate(273,374) rotate(-90)">D2</text>
<text transform="translate(291,374) rotate(-90)">D3</text>
<text transform="translate(309,374) rotate(-90)">D4</text>
<text transform="translate(326,374) rotate(-90)">3V3</text>
<text transform="translate(343,374) rotate(-90)">GND</text>
<text transform="translate(361,374) rotate(-90)">D5</text>
<text transform="translate(377,374) rotate(-90)">D6</text>
<text transform="translate(393,374) rotate(-90)">D7</text>
<text transform="translate(411,374) rotate(-90)">D8</text>
<text transform="translate(428,374) rotate(-90)">RX</text>
<text transform="translate(446,374) rotate(-90)">TX</text>
<text transform="translate(463,374) rotate(-90)">GND</text>
<text transform="translate(480,374) rotate(-90)">3V3</text>
<text transform="translate(241,483) rotate(-90)">A0</text>
<text transform="translate(258,483) rotate(-90)">RSV</text>
<text transform="translate(276,483) rotate(-90)">RSV</text>
<text transform="translate(293,483) rotate(-90)">SD3</text>
<text transform="translate(310,483) rotate(-90)">SD2</text>
<text transform="translate(326,483) rotate(-90)">SD1</text>
<text transform="translate(343,483) rotate(-90)">CMD</text>
<text transform="translate(363,483) rotate(-90)">SD0</text>
<text transform="translate(378,483) rotate(-90)">CLK</text>
<text transform="translate(393,483) rotate(-90)">GND</text>
<text transform="translate(410,483) rotate(-90)">3V3</text>
<text transform="translate(426,483) rotate(-90)">EN</text>
<text transform="translate(445,483) rotate(-90)">RST</text>
<text transform="translate(463,483) rotate(-90)">GND</text>
<text transform="translate(480,483) rotate(-90)">Vin</text>
</g>

<!-- highlight boxes -->
<g fill="none" stroke-width="2">
<path d="M231 347V375H318V347" stroke="#c4262e"/>
<path d="M348 347V375H416V347" stroke="#c4262e"/>
<path d="M416 347V375H449V347" stroke="#3d5fc4"/>
<path d="M282 500V462H313V500" stroke="#3d5fc4"/>
</g>

<!-- ============ WIRES ============ -->
<g stroke="#8a8a8a" stroke-width="3" stroke-linecap="round">
<line x1="247" y1="229" x2="238" y2="354"/>
<line x1="257" y1="229" x2="253" y2="354"/>
<line x1="267" y1="229" x2="270" y2="354"/>
<line x1="277" y1="229" x2="288" y2="354"/>
<line x1="287" y1="229" x2="306" y2="354"/>
<line x1="297" y1="229" x2="357" y2="354"/>
<line x1="306" y1="229" x2="374" y2="354"/>
<line x1="315" y1="229" x2="390" y2="354"/>
</g>
<path d="M327 228C340 238 350 255 372 270C395 285 420 295 460 300C500 304 530 308 548 325C565 345 580 380 586 420C592 470 580 520 555 555C535 575 490 578 455 565C425 550 412 520 408 492" fill="none" stroke="#a8323e" stroke-width="1.1"/>
<path d="M524 227C535 228 545 220 558 208C575 192 600 180 630 176L663 172" fill="none" stroke="#a8323e" stroke-width="1.1"/>
<path d="M484 226L483 250C484 256 490 259 498 262C515 268 530 275 548 279C565 281 580 281 590 276C600 266 606 245 612 228C617 214 620 208 632 207L663 207" fill="none" stroke="#111" stroke-width="1.2"/>

<text x="668" y="188" font-size="14" fill="#222" textLength="102">5V powersupply</text>

<!-- ============ LOGO ============ -->
<circle cx="314" cy="544" r="31" fill="url(#globe)" stroke="#0a4aa0" stroke-width="1"/>
<path d="M286 538q4-14 14-18q4 6-2 12q-6 4-4 12q-4 8-8 4z" fill="#2fa52a"/>
<path d="M328 518q12 6 16 20q-4 6-10 2q-2-8-8-10z" fill="#2fa52a"/>
<path d="M332 552q8-2 10 4q-4 10-12 14q-2-8 2-18z" fill="#2fa52a"/>
<path d="M300 565q6-6 14-2q6 6 4 10q-8 2-18-8z" fill="#2fa52a"/>
<path d="M302 518q10-6 22-2q-6 6-14 6z" fill="#d0e268"/>
<path d="M287 547L337 524L319 561L308 553Z" fill="#fff"/>
<path d="M308 553L337 524L303 548L303 563Z" fill="#d4e2ef"/>
<text x="358" y="558" font-size="51" textLength="409" lengthAdjust="spacingAndGlyphs" fill="#fff" stroke="#111" stroke-width="5" stroke-linejoin="round" paint-order="stroke">telegrammy.net</text>
</svg>
</body></html>
